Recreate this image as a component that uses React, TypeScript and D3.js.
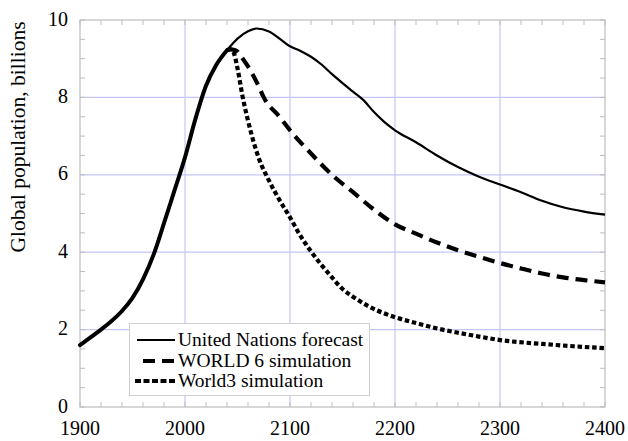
import React from "react";
import * as d3 from "d3";

// Shared history (all three curves coincide)
const historyYears = [1900, 1910, 1920, 1930, 1940, 1950, 1960, 1970, 1980, 1990, 2000, 2010, 2020, 2030, 2040];
const historyValues = [1.6, 1.8, 2.0, 2.22, 2.48, 2.82, 3.3, 3.93, 4.75, 5.6, 6.45, 7.45, 8.3, 8.85, 9.22];

// United Nations forecast (continues after history)
const unYears = [2050, 2060, 2068, 2080, 2090, 2100, 2110, 2120, 2130, 2140, 2150, 2160, 2170, 2180, 2190, 2200, 2220, 2240, 2260, 2280, 2300, 2320, 2340, 2360, 2380, 2400];
const unValues = [9.52, 9.71, 9.78, 9.7, 9.52, 9.32, 9.2, 9.05, 8.85, 8.6, 8.37, 8.15, 7.93, 7.62, 7.36, 7.15, 6.84, 6.5, 6.2, 5.95, 5.75, 5.55, 5.33, 5.16, 5.05, 4.97];

// WORLD 6 simulation
const w6Years = [2043, 2048, 2055, 2060, 2070, 2075, 2090, 2100, 2120, 2140, 2160, 2180, 2200, 2220, 2240, 2260, 2280, 2300, 2320, 2340, 2360, 2380, 2400];
const w6Values = [9.24, 9.22, 9.0, 8.8, 8.3, 8.0, 7.5, 7.15, 6.55, 6.0, 5.55, 5.1, 4.72, 4.48, 4.25, 4.05, 3.88, 3.72, 3.58, 3.45, 3.35, 3.28, 3.22];

// World3 simulation
const w3Years = [2043, 2046, 2050, 2055, 2060, 2070, 2080, 2090, 2100, 2110, 2120, 2140, 2150, 2160, 2175, 2200, 2220, 2240, 2260, 2280, 2300, 2340, 2370, 2400];
const w3Values = [9.24, 9.18, 8.75, 8.0, 7.4, 6.45, 5.85, 5.35, 4.9, 4.42, 4.02, 3.35, 3.05, 2.85, 2.6, 2.32, 2.17, 2.03, 1.92, 1.82, 1.73, 1.63, 1.57, 1.52];

const xMajor = [1900, 2000, 2100, 2200, 2300, 2400];
const yMajor = [0, 2, 4, 6, 8, 10];

const W = 628;
const H = 441;
const x = d3.scaleLinear().domain([1900, 2400]).range([80, 605]);
const y = d3.scaleLinear().domain([0, 10]).range([407, 20]);

const FONT = "'Liberation Serif', 'Times New Roman', serif";

type P = [number, number];
const zip = (a: number[], b: number[]): P[] => a.map((v, i) => [v, b[i]]);

const line = d3
  .line<P>()
  .x((d) => x(d[0]))
  .y((d) => y(d[1]))
  .curve(d3.curveMonotoneX);

export default function App() {
  const hist = zip(historyYears, historyValues);
  const last = hist[hist.length - 1];
  const un = [last, ...zip(unYears, unValues)];
  const w6 = [last, ...zip(w6Years, w6Values)];
  const w3 = [last, ...zip(w3Years, w3Values)];

  const xMinor = d3.range(1900, 2401, 20);
  const yMinor = d3.range(0, 10.01, 0.5);
  const [x0, x1] = x.range();
  const [y0, y1] = y.range();
  const tick = 5;
  const frame = "#bdbdbd";

  return (
    <svg width={W} height={H} style={{ position: "absolute", left: 0, top: 0 }}>
      <rect x={0} y={0} width={W} height={H} fill="#fff" />
      {/* gridlines */}
      {xMajor.slice(1, -1).map((v) => (
        <line key={"gx" + v} x1={x(v)} x2={x(v)} y1={y1} y2={y0} stroke="#c6c6f6" strokeWidth={1.2} />
      ))}
      {yMajor.slice(1, -1).map((v) => (
        <line key={"gy" + v} x1={x0} x2={x1} y1={y(v)} y2={y(v)} stroke="#c6c6f6" strokeWidth={1.2} />
      ))}
      {/* minor ticks */}
      {xMinor.map((v) => (
        <g key={"tx" + v} stroke={frame} strokeWidth={1}>
          <line x1={x(v)} x2={x(v)} y1={y0} y2={y0 - tick} />
          <line x1={x(v)} x2={x(v)} y1={y1} y2={y1 + tick} />
        </g>
      ))}
      {yMinor.map((v) => (
        <g key={"ty" + v} stroke={frame} strokeWidth={1}>
          <line x1={x0} x2={x0 + tick} y1={y(v)} y2={y(v)} />
          <line x1={x1} x2={x1 - tick} y1={y(v)} y2={y(v)} />
        </g>
      ))}
      <rect x={x0} y={y1} width={x1 - x0} height={y0 - y1} fill="none" stroke={frame} strokeWidth={1.2} />

      {/* series */}
      <path d={line(w3) || ""} fill="none" stroke="#000" strokeWidth={4.2} strokeDasharray="4.5 2.8" />
      <path d={line(w6) || ""} fill="none" stroke="#000" strokeWidth={4.2} strokeDasharray="12 7" />
      <path d={line(un) || ""} fill="none" stroke="#000" strokeWidth={2.2} />
      <path d={line(hist) || ""} fill="none" stroke="#000" strokeWidth={4} strokeLinecap="round" />

      {/* tick labels */}
      {yMajor.map((v) => (
        <text key={"ly" + v} x={68} y={y(v)} dy="0.28em" textAnchor="end" fontFamily={FONT} fontSize={20} fill="#000">
          {v}
        </text>
      ))}
      {xMajor.map((v) => (
        <text key={"lx" + v} x={x(v)} y={435} textAnchor="middle" fontFamily={FONT} fontSize={20} fill="#000">
          {v}
        </text>
      ))}
      <text
        transform={`translate(25,${137}) rotate(-90)`}
        textAnchor="middle"
        fontFamily={FONT}
        fontSize={21.5}
        fill="#000"
      >
        Global population, billions
      </text>

      {/* legend */}
      <rect x={129.5} y={323.5} width={240} height={72} fill="#fff" stroke="#cfcfcf" strokeWidth={1} />
      <line x1={137} x2={175} y1={340} y2={340} stroke="#000" strokeWidth={2.2} />
      <line x1={143} x2={175} y1={361} y2={361} stroke="#000" strokeWidth={4} strokeDasharray="12 7" />
      <line x1={135} x2={175} y1={381} y2={381} stroke="#000" strokeWidth={4} strokeDasharray="6 2.5" />
      <text x={178} y={346} fontFamily={FONT} fontSize={19.5} fill="#000">United Nations forecast</text>
      <text x={178} y={367} fontFamily={FONT} fontSize={19.5} fill="#000">WORLD 6 simulation</text>
      <text x={178} y={387} fontFamily={FONT} fontSize={19.5} fill="#000">World3 simulation</text>
    </svg>
  );
}
